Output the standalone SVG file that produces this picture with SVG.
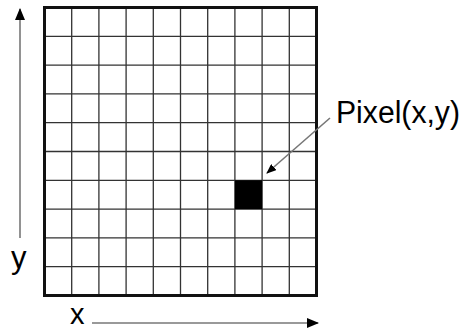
<svg xmlns="http://www.w3.org/2000/svg" width="464" height="333" viewBox="0 0 464 333">
<style>
.grid{stroke:#333;stroke-width:1.3;fill:none}
.border{stroke:#111;stroke-width:3;fill:none}
.conn{stroke:#777;stroke-width:1.6;fill:none}
.lbl{font-family:"Liberation Sans",Arial,sans-serif;fill:#000}
</style>
<defs>
<marker id="ah" markerWidth="10" markerHeight="8" refX="9" refY="4" orient="auto" markerUnits="userSpaceOnUse">
<path d="M0,0 L10,4 L0,8 Z" fill="#000"/>
</marker>
<marker id="ah2" markerWidth="12" markerHeight="10" refX="11" refY="5" orient="auto" markerUnits="userSpaceOnUse">
<path d="M0,0 L12,5 L0,10 Z" fill="#000"/>
</marker>
</defs>
<rect width="464" height="333" fill="#fff"/>
<g id="grid">
<path class="grid" d="M71.7,7.5V295.5M98.9,7.5V295.5M126.1,7.5V295.5M153.3,7.5V295.5M180.5,7.5V295.5M207.7,7.5V295.5M234.9,7.5V295.5M262.1,7.5V295.5M289.3,7.5V295.5
M44.5,36.3H316.5M44.5,65.1H316.5M44.5,93.9H316.5M44.5,122.7H316.5M44.5,151.5H316.5M44.5,180.3H316.5M44.5,209.1H316.5M44.5,237.9H316.5M44.5,266.7H316.5"/>
<rect class="border" x="44.5" y="7.5" width="272" height="288"/>
</g>
<g id="pixel">
<rect x="234.9" y="180.3" width="27.2" height="28.8" fill="#000"/>
</g>
<g id="label-pixel">
<text class="lbl" x="336" y="123" font-size="31" textLength="124" lengthAdjust="spacingAndGlyphs">Pixel(x,y)</text>
</g>
<g id="label-y">
<text class="lbl" x="11" y="268" font-size="31">y</text>
</g>
<g id="label-x">
<text class="lbl" x="70" y="323.5" font-size="29">x</text>
</g>
<g id="connectors">
<line class="conn" x1="20" y1="238" x2="20" y2="9" marker-end="url(#ah2)"/>
<line class="conn" x1="92" y1="323" x2="318" y2="323" marker-end="url(#ah2)"/>
<line class="conn" x1="330" y1="118" x2="267" y2="173" marker-end="url(#ah)"/>
</g>
</svg>
